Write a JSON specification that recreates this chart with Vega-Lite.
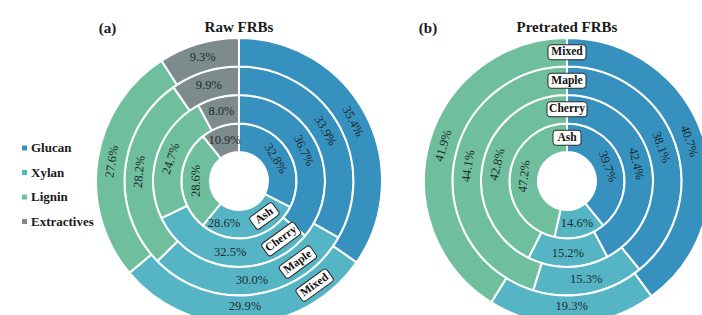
{
  "$schema": "https://vega.github.io/schema/vega-lite/v6.json",
  "width": 702,
  "height": 268,
  "autosize": {"type": "none"},
  "padding": {"top": 47, "left": 0, "right": 0, "bottom": 0},
  "background": "white",
  "config": {"view": {"stroke": null}, "font": "Liberation Serif"},
  "datasets": {
    "comp": [
      {"panel": "Raw FRBs", "ring": "Ash", "comp": "Glucan", "share": 0.328},
      {"panel": "Raw FRBs", "ring": "Ash", "comp": "Xylan", "share": 0.286},
      {"panel": "Raw FRBs", "ring": "Ash", "comp": "Lignin", "share": 0.286},
      {"panel": "Raw FRBs", "ring": "Ash", "comp": "Extractives", "share": 0.109},
      {"panel": "Raw FRBs", "ring": "Cherry", "comp": "Glucan", "share": 0.367},
      {"panel": "Raw FRBs", "ring": "Cherry", "comp": "Xylan", "share": 0.325},
      {"panel": "Raw FRBs", "ring": "Cherry", "comp": "Lignin", "share": 0.247},
      {"panel": "Raw FRBs", "ring": "Cherry", "comp": "Extractives", "share": 0.080},
      {"panel": "Raw FRBs", "ring": "Maple", "comp": "Glucan", "share": 0.339},
      {"panel": "Raw FRBs", "ring": "Maple", "comp": "Xylan", "share": 0.300},
      {"panel": "Raw FRBs", "ring": "Maple", "comp": "Lignin", "share": 0.282},
      {"panel": "Raw FRBs", "ring": "Maple", "comp": "Extractives", "share": 0.099},
      {"panel": "Raw FRBs", "ring": "Mixed", "comp": "Glucan", "share": 0.354},
      {"panel": "Raw FRBs", "ring": "Mixed", "comp": "Xylan", "share": 0.299},
      {"panel": "Raw FRBs", "ring": "Mixed", "comp": "Lignin", "share": 0.276},
      {"panel": "Raw FRBs", "ring": "Mixed", "comp": "Extractives", "share": 0.093},
      {"panel": "Pretrated FRBs", "ring": "Ash", "comp": "Glucan", "share": 0.397},
      {"panel": "Pretrated FRBs", "ring": "Ash", "comp": "Xylan", "share": 0.146},
      {"panel": "Pretrated FRBs", "ring": "Ash", "comp": "Lignin", "share": 0.472},
      {"panel": "Pretrated FRBs", "ring": "Cherry", "comp": "Glucan", "share": 0.424},
      {"panel": "Pretrated FRBs", "ring": "Cherry", "comp": "Xylan", "share": 0.152},
      {"panel": "Pretrated FRBs", "ring": "Cherry", "comp": "Lignin", "share": 0.428},
      {"panel": "Pretrated FRBs", "ring": "Maple", "comp": "Glucan", "share": 0.381},
      {"panel": "Pretrated FRBs", "ring": "Maple", "comp": "Xylan", "share": 0.153},
      {"panel": "Pretrated FRBs", "ring": "Maple", "comp": "Lignin", "share": 0.441},
      {"panel": "Pretrated FRBs", "ring": "Mixed", "comp": "Glucan", "share": 0.407},
      {"panel": "Pretrated FRBs", "ring": "Mixed", "comp": "Xylan", "share": 0.193},
      {"panel": "Pretrated FRBs", "ring": "Mixed", "comp": "Lignin", "share": 0.419}
    ],
    "rings": [
      {"panel": "Raw FRBs", "ring": "Ash"},
      {"panel": "Raw FRBs", "ring": "Cherry"},
      {"panel": "Raw FRBs", "ring": "Maple"},
      {"panel": "Raw FRBs", "ring": "Mixed"},
      {"panel": "Pretrated FRBs", "ring": "Ash"},
      {"panel": "Pretrated FRBs", "ring": "Cherry"},
      {"panel": "Pretrated FRBs", "ring": "Maple"},
      {"panel": "Pretrated FRBs", "ring": "Mixed"}
    ],
    "titles": [
      {"panel": "Raw FRBs", "tag": "(a)"},
      {"panel": "Pretrated FRBs", "tag": "(b)"}
    ]
  },
  "layer": [
    {
      "data": {"name": "comp"},
      "transform": [
        {"stack": "share", "groupby": ["panel", "ring"], "offset": "normalize", "as": ["t0", "t1"]}
      ],
      "mark": {"type": "arc", "stroke": "white", "strokeWidth": 2},
      "encoding": {
        "x": {"field": "panel", "type": "nominal", "scale": {"type": "point", "domain": ["Raw FRBs", "Pretrated FRBs"], "padding": 0.5701, "align": 0.639}, "axis": null},
        "theta": {"field": "t0", "type": "quantitative", "scale": {"domain": [0, 1]}},
        "theta2": {"field": "t1"},
        "radius": {"field": "ring", "type": "ordinal", "scale": {"type": "band", "domain": ["Ash", "Cherry", "Maple", "Mixed"], "range": [29, 143], "paddingInner": 0, "paddingOuter": 0}},
        "color": {
          "field": "comp", "type": "nominal",
          "scale": {"domain": ["Glucan", "Xylan", "Lignin", "Extractives"], "range": ["#3691be", "#56b5c5", "#6fbf9f", "#7e8b8c"]},
          "legend": {"orient": "none", "legendX": 18, "legendY": 94.5, "title": null, "symbolType": "square", "symbolSize": 25, "symbolStrokeWidth": 0, "labelFont": "Liberation Serif", "labelFontSize": 13, "labelFontWeight": "bold", "labelColor": "#1a1a1a", "rowPadding": 10.5, "labelOffset": 0, "padding": 0}
        }
      }
    },
    {
      "data": {"name": "comp"},
      "transform": [
        {"stack": "share", "groupby": ["panel", "ring"], "offset": "normalize", "as": ["t0", "t1"]},
        {"fold": ["t0", "t1"], "as": ["edge", "t"]},
        {"aggregate": [{"op": "mean", "field": "t", "as": "tm"}], "groupby": ["panel", "ring", "comp", "share"]},
        {"filter": {"field": "comp", "oneOf": ["Glucan", "Lignin"]}}
      ],
      "mark": {"type": "text", "font": "Liberation Serif", "fontSize": 12.5, "color": "#1d2a30"},
      "encoding": {
        "x": {"field": "panel", "type": "nominal"},
        "theta": {"field": "tm", "type": "quantitative", "stack": null},
        "radius": {"field": "ring", "type": "ordinal"},
        "text": {"field": "share", "type": "quantitative", "format": ".1%"},
        "angle": {"field": "tm", "type": "quantitative", "scale": {"domain": [0, 1], "range": [0, 360]}, "legend": null}
      }
    },
    {
      "data": {"name": "comp"},
      "transform": [
        {"stack": "share", "groupby": ["panel", "ring"], "offset": "normalize", "as": ["t0", "t1"]},
        {"fold": ["t0", "t1"], "as": ["edge", "t"]},
        {"aggregate": [{"op": "mean", "field": "t", "as": "tm"}], "groupby": ["panel", "ring", "comp", "share"]},
        {"filter": "(datum.comp === 'Xylan' || datum.comp === 'Extractives') && !(datum.comp === 'Xylan' && (datum.ring === 'Mixed' || (datum.panel === 'Raw FRBs' && datum.ring === 'Ash')))"}
      ],
      "mark": {"type": "text", "font": "Liberation Serif", "fontSize": 12.5, "color": "#1d2a30"},
      "encoding": {
        "x": {"field": "panel", "type": "nominal"},
        "theta": {"field": "tm", "type": "quantitative", "stack": null},
        "radius": {"field": "ring", "type": "ordinal"},
        "text": {"field": "share", "type": "quantitative", "format": ".1%"}
      }
    },
    {
      "data": {"name": "comp"},
      "transform": [
        {"stack": "share", "groupby": ["panel", "ring"], "offset": "normalize", "as": ["t0", "t1"]},
        {"fold": ["t0", "t1"], "as": ["edge", "t"]},
        {"aggregate": [{"op": "mean", "field": "t", "as": "tm"}], "groupby": ["panel", "ring", "comp", "share"]},
        {"filter": "datum.comp === 'Xylan' && datum.ring === 'Mixed'"}
      ],
      "mark": {"type": "text", "font": "Liberation Serif", "fontSize": 12.5, "color": "#1d2a30", "dy": -3.5},
      "encoding": {
        "x": {"field": "panel", "type": "nominal"},
        "theta": {"field": "tm", "type": "quantitative", "stack": null},
        "radius": {"field": "ring", "type": "ordinal"},
        "text": {"field": "share", "type": "quantitative", "format": ".1%"}
      }
    },
    {
      "data": {"name": "comp"},
      "transform": [
        {"stack": "share", "groupby": ["panel", "ring"], "offset": "normalize", "as": ["t0", "t1"]},
        {"fold": ["t0", "t1"], "as": ["edge", "t"]},
        {"aggregate": [{"op": "mean", "field": "t", "as": "tm"}], "groupby": ["panel", "ring", "comp", "share"]},
        {"filter": "datum.panel === 'Raw FRBs' && datum.ring === 'Ash' && datum.comp === 'Xylan'"}
      ],
      "mark": {"type": "text", "font": "Liberation Serif", "fontSize": 12.5, "color": "#1d2a30", "dx": -24},
      "encoding": {
        "x": {"field": "panel", "type": "nominal"},
        "theta": {"field": "tm", "type": "quantitative", "stack": null},
        "radius": {"field": "ring", "type": "ordinal"},
        "text": {"field": "share", "type": "quantitative", "format": ".1%"}
      }
    },
    {
      "data": {"name": "rings"},
      "transform": [{"filter": "datum.panel === 'Raw FRBs'"}],
      "mark": {"type": "point", "filled": true, "fill": "white", "stroke": "#2a2a2a", "strokeWidth": 1, "size": 4, "opacity": 1, "angle": 144},
      "encoding": {
        "x": {"field": "panel", "type": "nominal"},
        "shape": {"field": "ring", "type": "nominal", "legend": null, "scale": {"domain": ["Ash", "Cherry", "Maple", "Mixed"], "range": [
          "M-11,-50.75L11,-50.75Q14,-50.75 14,-47.75L14,-38.75Q14,-35.75 11,-35.75L-11,-35.75Q-14,-35.75 -14,-38.75L-14,-47.75Q-14,-50.75 -11,-50.75Z",
          "M-17,-79.25L17,-79.25Q20,-79.25 20,-76.25L20,-67.25Q20,-64.25 17,-64.25L-17,-64.25Q-20,-64.25 -20,-67.25L-20,-76.25Q-20,-79.25 -17,-79.25Z",
          "M-16,-107.75L16,-107.75Q19,-107.75 19,-104.75L19,-95.75Q19,-92.75 16,-92.75L-16,-92.75Q-19,-92.75 -19,-95.75L-19,-104.75Q-19,-107.75 -16,-107.75Z",
          "M-16,-136.25L16,-136.25Q19,-136.25 19,-133.25L19,-124.25Q19,-121.25 16,-121.25L-16,-121.25Q-19,-121.25 -19,-124.25L-19,-133.25Q-19,-136.25 -16,-136.25Z"
        ]}}
      }
    },
    {
      "data": {"name": "rings"},
      "transform": [{"filter": "datum.panel === 'Pretrated FRBs'"}],
      "mark": {"type": "point", "filled": true, "fill": "white", "stroke": "#2a2a2a", "strokeWidth": 1, "size": 4, "opacity": 1, "angle": 0},
      "encoding": {
        "x": {"field": "panel", "type": "nominal"},
        "shape": {"field": "ring", "type": "nominal", "legend": null}
      }
    },
    {
      "data": {"name": "rings"},
      "transform": [{"filter": "datum.panel === 'Raw FRBs'"}],
      "mark": {"type": "text", "font": "Liberation Serif", "fontSize": 11.5, "fontWeight": "bold", "color": "#111111", "angle": 324},
      "encoding": {
        "x": {"field": "panel", "type": "nominal"},
        "theta": {"datum": 0.4, "type": "quantitative"},
        "radius": {"field": "ring", "type": "ordinal"},
        "text": {"field": "ring", "type": "nominal"}
      }
    },
    {
      "data": {"name": "rings"},
      "transform": [{"filter": "datum.panel === 'Pretrated FRBs'"}],
      "mark": {"type": "text", "font": "Liberation Serif", "fontSize": 11.5, "fontWeight": "bold", "color": "#111111", "angle": 0},
      "encoding": {
        "x": {"field": "panel", "type": "nominal"},
        "theta": {"datum": 0, "type": "quantitative"},
        "radius": {"field": "ring", "type": "ordinal"},
        "text": {"field": "ring", "type": "nominal"}
      }
    },
    {
      "data": {"name": "titles"},
      "mark": {"type": "text", "font": "Liberation Serif", "fontSize": 15, "fontWeight": "bold", "color": "#1a1a1a", "dy": -154},
      "encoding": {
        "x": {"field": "panel", "type": "nominal"},
        "text": {"field": "panel", "type": "nominal"}
      }
    },
    {
      "data": {"name": "titles"},
      "transform": [{"filter": "datum.panel === 'Raw FRBs'"}],
      "mark": {"type": "text", "font": "Liberation Serif", "fontSize": 15, "fontWeight": "bold", "color": "#1a1a1a", "dy": -153, "dx": -131.5},
      "encoding": {
        "x": {"field": "panel", "type": "nominal"},
        "text": {"field": "tag", "type": "nominal"}
      }
    },
    {
      "data": {"name": "titles"},
      "transform": [{"filter": "datum.panel === 'Pretrated FRBs'"}],
      "mark": {"type": "text", "font": "Liberation Serif", "fontSize": 15, "fontWeight": "bold", "color": "#1a1a1a", "dy": -153, "dx": -139},
      "encoding": {
        "x": {"field": "panel", "type": "nominal"},
        "text": {"field": "tag", "type": "nominal"}
      }
    }
  ]
}
